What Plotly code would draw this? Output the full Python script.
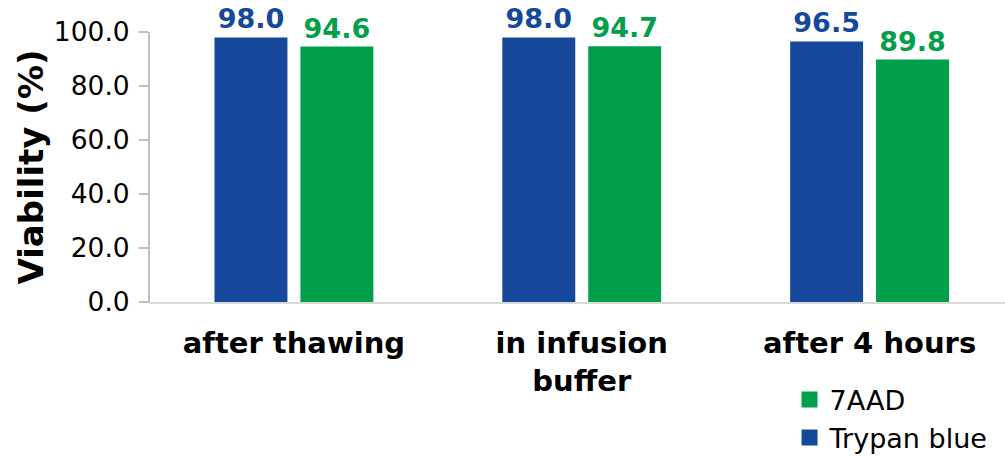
import plotly.graph_objects as go

# Viability measured at three handling stages, by two staining methods
categories = ["after thawing", "in infusion<br>buffer", "after 4 hours"]
trypan_blue = [98.0, 98.0, 96.5]
aad7 = [94.6, 94.7, 89.8]
y_ticks = [0, 20, 40, 60, 80, 100]

BLUE = "#15479A"
GREEN = "#00A04B"
FONT = "DejaVu Sans"

fig = go.Figure()

fig.add_trace(go.Bar(
    x=categories, y=trypan_blue, name="Trypan blue",
    marker=dict(color=BLUE, line=dict(width=0)),
    text=[f"{v:.1f}" for v in trypan_blue], textposition="outside",
    textfont=dict(family=FONT, size=27, color=BLUE, weight="bold"),
    cliponaxis=False, showlegend=False,
))
fig.add_trace(go.Bar(
    x=categories, y=aad7, name="7AAD",
    marker=dict(color=GREEN, line=dict(width=0)),
    text=[f"{v:.1f}" for v in aad7], textposition="outside",
    textfont=dict(family=FONT, size=27, color=GREEN, weight="bold"),
    cliponaxis=False, showlegend=False,
))

# legend entries with large square keys
for name, color in [("Trypan blue", BLUE), ("7AAD", GREEN)]:
    fig.add_trace(go.Scatter(
        x=[None], y=[None], mode="markers", name=name,
        marker=dict(symbol="square", size=22, color=color),
    ))

fig.update_layout(
    width=1005, height=459,
    margin=dict(l=150, r=0, t=32, b=157, autoexpand=False),
    paper_bgcolor="white", plot_bgcolor="white",
    barmode="group", bargap=0.403, bargroupgap=0.151,
    font=dict(family=FONT, color="#000000"),
    legend=dict(
        x=0.748, y=-0.272, xanchor="left", yanchor="top",
        traceorder="reversed", font=dict(family=FONT, size=27),
        itemsizing="trace", tracegroupgap=0, bgcolor="rgba(0,0,0,0)",
    ),
    showlegend=True,
)

fig.update_xaxes(
    range=[-0.5, 2.4705], showgrid=False, showline=True, automargin=False,
    linecolor="#D9D9D9", linewidth=2, ticks="", ticklabelstandoff=14,
    tickfont=dict(family=FONT, size=29, color="#000000", weight="bold"),
)
fig.update_yaxes(
    range=[0, 100], tickvals=y_ticks, tickformat=".1f", automargin=False,
    showgrid=False, zeroline=False, showline=True,
    linecolor="#BFBFBF", linewidth=2, ticks="outside", ticklen=9,
    tickcolor="#BFBFBF", tickwidth=2, ticklabelstandoff=4,
    tickfont=dict(family=FONT, size=26.5, color="#000000"),
    title=dict(text="Viability (%)", standoff=0,
               font=dict(family=FONT, size=34, color="#000000", weight="bold")),
)

fig.write_html("out.html")
